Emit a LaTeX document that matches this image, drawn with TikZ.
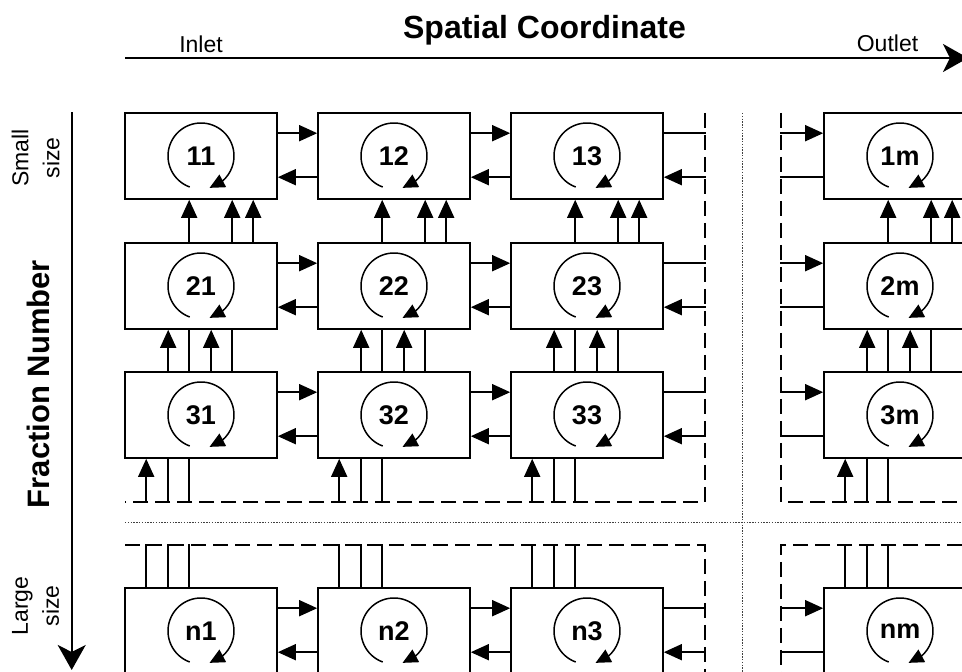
\documentclass[tikz,border=0pt]{standalone}
\usepackage{fontspec}
\setmainfont{Liberation Sans}
\usetikzlibrary{arrows.meta,bending}
\begin{document}
\begin{tikzpicture}[x=1pt,y=1pt,
  cell/.style={draw, line width=1.6pt, minimum width=152pt, minimum height=86pt, inner sep=0pt,
    font=\fontsize{27}{27}\selectfont\bfseries},
  conn/.style={line width=1.6pt, -{Triangle[length=18pt,width=16pt]}},
  plain/.style={line width=1.6pt},
  spin/.style={line width=1.5pt, -{Triangle[length=15pt,width=14pt]}},
  bound/.style={line width=1.6pt, dash pattern=on 15pt off 7pt},
  sep/.style={line width=1pt, dash pattern=on 1.4pt off 1.4pt, black!75},
  axis/.style={line width=2.4pt, -{Stealth[length=25pt,width=28pt,inset=7pt]}},
  small/.style={font=\fontsize{23}{23}\selectfont, inner sep=0pt},
  sidelbl/.style={font=\fontsize{23}{31}\selectfont, inner sep=0pt, align=center, rotate=90},
  big/.style={font=\fontsize{32}{32}\selectfont\bfseries, inner sep=0pt}
]
\useasboundingbox (0,0) rectangle (962,672);
\clip (0,0) rectangle (962,672);

% axes
\coordinate (hx0) at (125,614);
\coordinate (hx1) at (968,614);
\draw[axis] (hx0) -- (hx1);
\node[big, anchor=base] (title) at (544.5,633.5) {Spatial Coordinate};
\node[small, anchor=base] (inlet) at (201,619) {Inlet};
\node[small, anchor=base] (outlet) at (887.5,620) {Outlet};

\coordinate (vy0) at (71.7,559.5);
\coordinate (vy1) at (71.7,2);
\draw[axis, line width=2pt] (vy0) -- (vy1);
\node[big, font=\fontsize{31}{31}\selectfont\bfseries, rotate=90, anchor=base] (fn) at (50,288) {Fraction Number};
\node[sidelbl] (ss) at (35.6,514) {Small\\size};
\node[sidelbl] (ls) at (35.6,66) {Large\\size};

% separators
\coordinate (sh0) at (125,149.3);
\coordinate (sh1) at (962,149.3);
\draw[sep] (sh0) -- (sh1);
\coordinate (sv0) at (742,559);
\coordinate (sv1) at (742,0);
\draw[sep] (sv0) -- (sv1);

% dashed boundaries
\draw[bound] (705,559) -- (705,170) -- (125,170);
\draw[bound] (781,559) -- (781,170) -- (962,170);
\draw[bound] (125,127) -- (705,127) -- (705,0);
\draw[bound] (962,127) -- (781,127) -- (781,0);

% cells
\foreach \ro/\ry in {1/516, 2/386, 3/257, n/41} {
  \foreach \co/\cx in {1/201, 2/394, 3/587, m/900} {
    \node[cell] (b\ro\co) at (\cx,\ry) {\ro\co};
    \draw[spin] ([shift={(250:33pt)}]b\ro\co.center) arc[start angle=250,end angle=-75,radius=33pt];
  }
}

% horizontal exchanges
\foreach \ro in {1,2,3,n} {
  \foreach \a/\b in {1/2, 2/3} {
    \draw[conn] ([yshift=-21pt]b\ro\a.north east) -- ([yshift=-21pt]b\ro\b.north west);
    \draw[conn] ([yshift=-65pt]b\ro\b.north west) -- ([yshift=-65pt]b\ro\a.north east);
  }
  \draw[plain] ([yshift=-21pt]b\ro 3.north east) -- ++(42,0);
  \draw[conn] ([yshift=-65pt,xshift=42pt]b\ro 3.north east) -- ([yshift=-65pt]b\ro 3.north east);
  \draw[conn] ([yshift=-21pt,xshift=-43pt]b\ro m.north west) -- ([yshift=-21pt]b\ro m.north west);
  \draw[plain] ([yshift=-65pt]b\ro m.north west) -- ++(-43,0);
}

% vertical exchanges
\foreach \co in {1,2,3,m} {
  \foreach \dx in {65,108,129}
    \draw[conn] ([xshift=\dx pt]b2\co.north west) -- ([xshift=\dx pt]b1\co.south west);
  \foreach \dx in {44,87}
    \draw[conn] ([xshift=\dx pt]b3\co.north west) -- ([xshift=\dx pt]b2\co.south west);
  \foreach \dx in {65,108}
    \draw[plain] ([xshift=\dx pt]b3\co.north west) -- ([xshift=\dx pt]b2\co.south west);
  \draw[conn] ([xshift=22pt,yshift=-44pt]b3\co.south west) -- ([xshift=22pt]b3\co.south west);
  \foreach \dx in {44,65}
    \draw[plain] ([xshift=\dx pt]b3\co.south west) -- ++(0,-44);
  \foreach \dx in {22,44,65}
    \draw[plain] ([xshift=\dx pt]bn\co.north west) -- ++(0,43);
}
\end{tikzpicture}
\end{document}
